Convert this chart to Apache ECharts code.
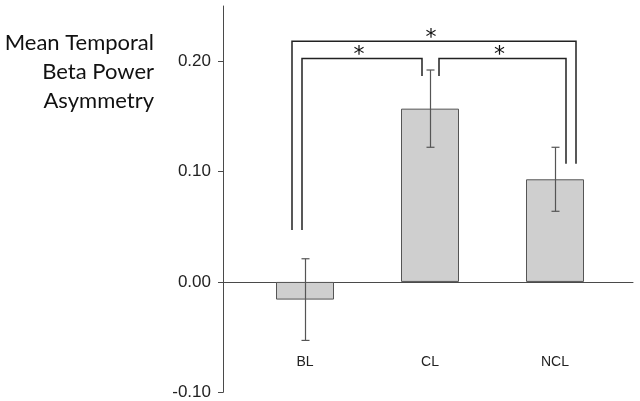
<!DOCTYPE html>
<html><head><meta charset="utf-8">
<script src="https://cdn.jsdelivr.net/npm/echarts@6/dist/echarts.min.js"></script>
<style>html,body{margin:0;padding:0;background:#fff}#c{width:640px;height:401px}</style>
</head><body><div id="c"></div>
<script>
// ---- data ----
const categories = ['BL', 'CL', 'NCL'];
const means = [-0.016, 0.157, 0.093];
const errors = [0.037, 0.035, 0.029];
const yTicks = [-0.1, 0, 0.1, 0.2];
const yLabels = ['-0.10', '0.00', '0.10', '0.20'];
const yTitle = ['Mean Temporal', 'Beta Power', 'Asymmetry'];
// brackets: [leftCategory, rightCategory, topValue, leftLegEndValue, rightLegEndValue]
const brackets = [
  [0, 2, 0.218, 0.047, 0.107],
  [0, 1, 0.2025, 0.047, 0.1865],
  [1, 2, 0.2025, 0.1865, 0.107]
];
const bracketMarks = ['*', '*', '*'];

// ---- styles (pixel offsets of bracket legs from category centres) ----
const legOffsets = [[-13, 21], [-3, -8], [9, 11]];
const lineColor = '#4a4a4a';

const chart = echarts.init(document.getElementById('c'), null, {renderer: 'canvas'});
const gridTop = 6, gridBottom = 8.7;

chart.setOption({
  animation: false,
  backgroundColor: '#fff',
  grid: [
    {left: 242.5, right: 22.5, top: gridTop, bottom: gridBottom, outerBoundsMode: 'none', containLabel: false},
    {left: 223, right: 7, top: gridTop, bottom: gridBottom, outerBoundsMode: 'none', containLabel: false}
  ],
  graphic: [{
    type: 'text', x: 154, y: 28,
    style: {
      text: yTitle.join('\n'), align: 'right', verticalAlign: 'top',
      font: '22px Lato', lineHeight: 29, fill: '#111'
    }
  }],
  xAxis: [
    {
      type: 'category', gridIndex: 0, data: categories, position: 'bottom',
      axisLine: {show: false, onZero: false}, axisTick: {show: false},
      axisLabel: {show: true, margin: -37, fontFamily: 'Liberation Sans', fontSize: 14, color: '#222'},
      splitLine: {show: false}
    },
    {
      type: 'value', gridIndex: 1, min: 0, max: 1,
      axisLine: {show: true, onZero: true, lineStyle: {color: lineColor, width: 1}},
      axisTick: {show: false}, axisLabel: {show: false}, splitLine: {show: false}
    }
  ],
  yAxis: [
    {
      type: 'value', gridIndex: 0, min: -0.1, max: 0.25, interval: 0.1,
      offset: 19.5,
      axisLine: {show: true, lineStyle: {color: lineColor, width: 1}},
      axisTick: {show: true, length: 5, customValues: yTicks, lineStyle: {color: lineColor}},
      axisLabel: {
        customValues: yTicks, margin: 12, fontFamily: 'Liberation Sans', fontSize: 17, color: '#222',
        formatter: v => { const i = yTicks.findIndex(t => Math.abs(t - v) < 1e-9); return i >= 0 ? yLabels[i] : ''; }
      },
      splitLine: {show: false}
    },
    {type: 'value', gridIndex: 1, min: -0.1, max: 0.25, show: false}
  ],
  series: [
    {
      type: 'bar', xAxisIndex: 0, yAxisIndex: 0, data: means, barWidth: 58,
      itemStyle: {color: '#cfcfcf', borderColor: '#555', borderWidth: 1}
    },
    {
      type: 'custom', xAxisIndex: 0, yAxisIndex: 0, z: 5,
      data: means.map((m, i) => [i, m - errors[i], m + errors[i]]),
      renderItem: (params, api) => {
        const lo = api.coord([api.value(0), api.value(1)]);
        const hi = api.coord([api.value(0), api.value(2)]);
        const x = Math.round(lo[0]) + 0.5, cw = 4;
        const st = {stroke: '#555', lineWidth: 1.2};
        return {type: 'group', children: [
          {type: 'line', shape: {x1: x, y1: lo[1], x2: x, y2: hi[1]}, style: st},
          {type: 'line', shape: {x1: x - cw, y1: lo[1], x2: x + cw, y2: lo[1]}, style: st},
          {type: 'line', shape: {x1: x - cw, y1: hi[1], x2: x + cw, y2: hi[1]}, style: st}
        ]};
      }
    },
    {
      type: 'custom', xAxisIndex: 0, yAxisIndex: 0, z: 6,
      data: brackets,
      renderItem: (params, api) => {
        const i = params.dataIndex;
        const off = legOffsets[i];
        const pl = api.coord([api.value(0), api.value(3)]);
        const pr = api.coord([api.value(1), api.value(4)]);
        const top = api.coord([api.value(0), api.value(2)])[1];
        const xl = pl[0] + off[0], xr = pr[0] + off[1];
        const st = {stroke: '#222', lineWidth: 1.5, fill: null};
        return {type: 'group', children: [
          {type: 'polyline', shape: {points: [[xl, pl[1]], [xl, top], [xr, top], [xr, pr[1]]]}, style: st},
          {type: 'text', x: (xl + xr) / 2 - 3, y: top + 8,
           style: {text: bracketMarks[i], align: 'center', verticalAlign: 'bottom', font: '22px "DejaVu Sans"', fill: '#111'}}
        ]};
      }
    }
  ]
});
</script></body></html>
